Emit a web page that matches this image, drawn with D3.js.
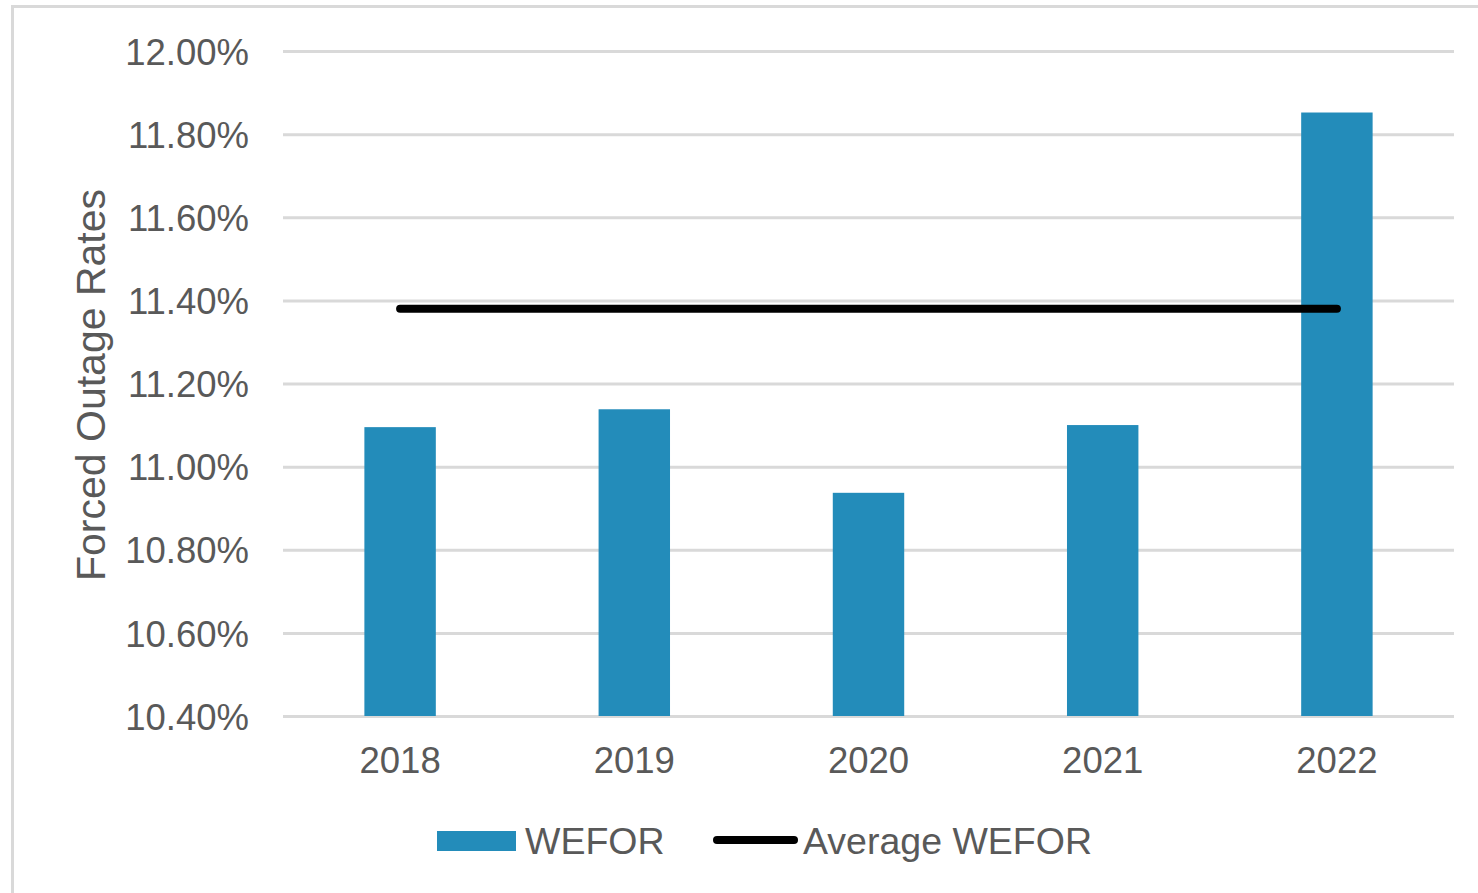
<!DOCTYPE html>
<html>
<head>
<meta charset="utf-8">
<script src="https://cdn.jsdelivr.net/npm/d3@7"></script>
<style>
  body { margin: 0; background: #fff; }
  svg text { font-family: "Liberation Sans", Arial, sans-serif; fill: #595959; }
</style>
</head>
<body>
<div id="chart"></div>
<script>
// values (percent)
var years     = ["2018", "2019", "2020", "2021", "2022"];
var wefor     = [11.095, 11.138, 10.937, 11.100, 11.852];
var avgWefor  = 11.38;
var yTicks    = [10.4, 10.6, 10.8, 11.0, 11.2, 11.4, 11.6, 11.8, 12.0];
var legendNames = ["WEFOR", "Average WEFOR"];

var W = 1478, H = 893,
    mLeft = 283, mRight = 1454, mTop = 51, mBottom = 716;

var x = d3.scaleBand().domain(years).range([mLeft, mRight]).padding(0),
    y = d3.scaleLinear().domain([10.4, 12.0]).range([mBottom, mTop]),
    barW = x.bandwidth() * 0.305,
    blue = "#238cba";

var svg = d3.select("#chart")
  .append("svg")
  .attr("width", W)
  .attr("height", H)
;

// chart frame
svg.append("path")
  .attr("d", "M12.5," + H + "V6.5H" + (W + 5))
  .style("fill", "none")
  .style("stroke", "#d9d9d9")
  .style("stroke-width", 3)
;

// gridlines + y labels
var yaxis = svg.append("g")
  .attr("transform", "translate(" + mLeft + ",0)")
  .call(d3.axisLeft(y)
    .tickValues(yTicks)
    .tickSize(-(mRight - mLeft))
    .tickPadding(34)
    .tickFormat(function(d) { return d3.format(".2f")(d) + "%"; }))
;
yaxis.select(".domain").remove();
yaxis.selectAll("line")
  .style("stroke", "#d9d9d9")
  .style("stroke-width", 3)
;
yaxis.selectAll("text")
  .style("font-size", "36.5px")
  .attr("fill", "#595959")
  .attr("dy", "0.36em")
;

// bars
svg.selectAll(".bar")
  .data(wefor)
  .enter()
  .append("rect")
  .attr("class", "bar")
  .attr("x", function(d, i) { return x(years[i]) + (x.bandwidth() - barW) / 2; })
  .attr("y", function(d) { return y(d); })
  .attr("width", barW)
  .attr("height", function(d) { return y(10.4) - y(d); })
  .style("fill", blue)
;

// x labels
var xaxis = svg.append("g")
  .attr("transform", "translate(0," + mBottom + ")")
  .call(d3.axisBottom(x).tickSize(0).tickPadding(31))
;
xaxis.select(".domain").remove();
xaxis.selectAll("text")
  .style("font-size", "36.5px")
  .attr("fill", "#595959")
;

// average line, centre of first to centre of last category
var line = d3.line()
  .x(function(d) { return x(d) + x.bandwidth() / 2; })
  .y(function() { return y(avgWefor); })
;
svg.append("path")
  .attr("d", line([years[0], years[years.length - 1]]))
  .style("stroke", "#000")
  .style("stroke-width", 8)
  .style("stroke-linecap", "round")
  .style("fill", "none")
;

// y title
svg.append("text")
  .attr("transform", "translate(105,385) rotate(-90)")
  .attr("text-anchor", "middle")
  .style("font-size", "41px")
  .text("Forced Outage Rates")
;

// legend
var lg = svg.append("g");
lg.append("rect")
  .attr("x", 437).attr("y", 831)
  .attr("width", 79).attr("height", 20)
  .style("fill", blue)
;
lg.append("text")
  .attr("x", 525).attr("y", 854)
  .style("font-size", "37.5px")
  .text(legendNames[0])
;
lg.append("line")
  .attr("x1", 717).attr("x2", 794)
  .attr("y1", 840).attr("y2", 840)
  .style("stroke", "#000")
  .style("stroke-width", 8)
  .style("stroke-linecap", "round")
;
lg.append("text")
  .attr("x", 803).attr("y", 854)
  .style("font-size", "37.5px")
  .text(legendNames[1])
;
</script>
</body>
</html>
